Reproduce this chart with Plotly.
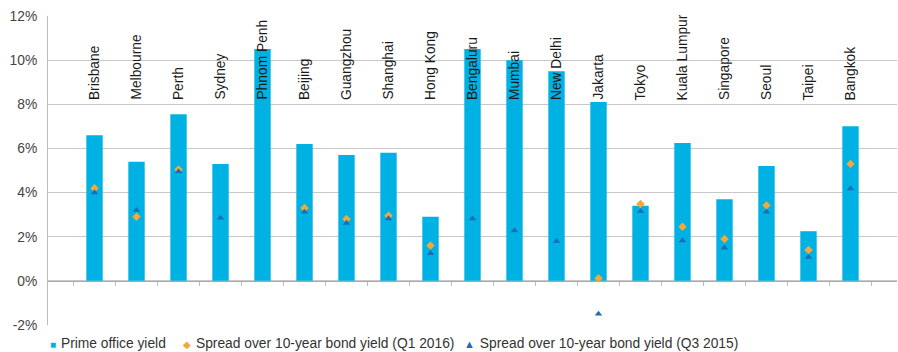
import plotly.graph_objects as go

cities = ["Brisbane", "Melbourne", "Perth", "Sydney", "Phnom Penh", "Beijing",
          "Guangzhou", "Shanghai", "Hong Kong", "Bengaluru", "Mumbai", "New Delhi",
          "Jakarta", "Tokyo", "Kuala Lumpur", "Singapore", "Seoul", "Taipei", "Bangkok"]

prime_office_yield = [6.6, 5.4, 7.55, 5.3, 10.5, 6.2, 5.7, 5.8, 2.9, 10.5, 10.0, 9.5,
                      8.1, 3.4, 6.25, 3.7, 5.2, 2.25, 7.0]

spread_q1_2016 = [4.2, 2.9, 5.05, None, None, 3.3, 2.8, 2.95, 1.6, None, None, None,
                  0.12, 3.48, 2.45, 1.9, 3.42, 1.4, 5.3]

spread_q3_2015 = [4.0, 3.2, 4.95, 2.85, None, 3.12, 2.62, 2.82, 1.25, 2.82, 2.28, 1.8,
                  -1.5, 3.15, 1.82, 1.5, 3.12, 1.08, 4.18]

y_ticks = [-2, 0, 2, 4, 6, 8, 10, 12]
y_tick_text = [f"{v}%" for v in y_ticks]

series_names = ["Prime office yield",
                "Spread over 10-year bond yield (Q1 2016)",
                "Spread over 10-year bond yield (Q3 2015)"]

label_base = 8.1  # bottom of the rotated city labels, in % units

BAR = "#00B2E3"
ORANGE = "#F2A83A"
NAVY = "#1F6BB5"
GRID = "#C8C8C8"
FONT = "Liberation Sans, Arial, sans-serif"

W, H = 898, 352
M = dict(l=48, r=1, t=16, b=27)
plot_w = W - M["l"] - M["r"]
plot_h = H - M["t"] - M["b"]

fig = go.Figure()

fig.add_trace(go.Bar(
    x=cities, y=prime_office_yield, name=series_names[0],
    marker=dict(color=BAR, line=dict(width=0)),
))
fig.add_trace(go.Scatter(
    x=cities, y=spread_q1_2016, mode="markers", name=series_names[1],
    marker=dict(symbol="diamond", size=6.5, color=ORANGE),
))
fig.add_trace(go.Scatter(
    x=cities, y=spread_q3_2015, mode="markers", name=series_names[2],
    marker=dict(symbol="triangle-up", size=6.5, color=NAVY),
))

# rotated city names standing above the bars
for c in cities:
    fig.add_annotation(
        x=c, y=label_base, xref="x", yref="y", text=c, textangle=-90,
        showarrow=False, xanchor="center", yanchor="bottom",
        font=dict(family=FONT, size=13.8, color="#1a1a1a"),
    )

# compact key below the plot: coloured glyph followed by the series name
key_glyphs = ["■", "◆", "▲"]
key_colors = [BAR, ORANGE, NAVY]
key_glyph_sizes = [10, 10, 11]
key_px = [48, 181, 462]          # left edge of each key entry, in pixels
key_y = ((H - M["b"]) - 343) / plot_h   # vertical centre of the key row (paper units)
for px, g, col, gs, name in zip(key_px, key_glyphs, key_colors, key_glyph_sizes, series_names):
    fig.add_annotation(
        x=(px - M["l"]) / plot_w, y=key_y, xref="paper", yref="paper",
        text=f'<span style="color:{col};font-size:{gs}px">{g}</span>'
             f'<span style="font-size:4px"> </span> {name}',
        showarrow=False, xanchor="left", yanchor="middle",
        font=dict(family=FONT, size=13.8, color="#333333"),
    )

fig.update_layout(
    width=W, height=H,
    margin=dict(**M, autoexpand=False),
    paper_bgcolor="white", plot_bgcolor="white",
    bargap=0.61,
    font=dict(family=FONT, size=13.8, color="#333333"),
    showlegend=False,
)

fig.update_yaxes(
    range=[-2, 12], tickvals=y_ticks, ticktext=y_tick_text,
    showgrid=True, gridcolor=GRID, gridwidth=1, zeroline=False,
    showline=True, linecolor="#BBBBBB", linewidth=1,
    ticks="", ticklabelstandoff=7,
    tickfont=dict(family=FONT, size=13.8, color="#444444"),
)

fig.update_xaxes(
    type="category", anchor="free", position=2 / 14,
    showline=True, linecolor="#AAAAAA", linewidth=1,
    ticks="outside", tickson="boundaries", ticklen=4, tickcolor="#BBBBBB",
    showticklabels=False, showgrid=False, zeroline=False,
)

fig.write_html("out.html")
